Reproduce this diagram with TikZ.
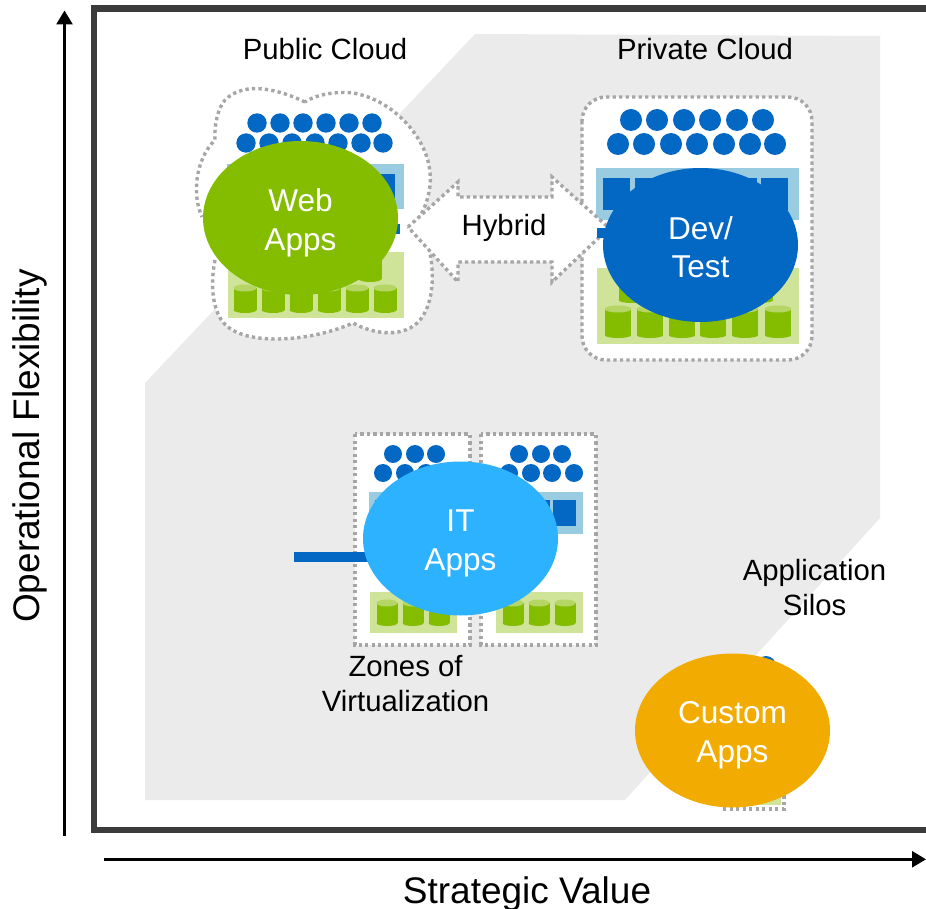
\documentclass[tikz,border=0pt]{standalone}
\usepackage{fontspec}
\setmainfont{Liberation Sans}
\usetikzlibrary{shapes.geometric,arrows.meta}
\definecolor{regiongrey}{HTML}{EBEBEB}
\definecolor{framegrey}{HTML}{3B3B3B}
\definecolor{dotgrey}{HTML}{A6A6A6}
\definecolor{ibmblue}{HTML}{0368C4}
\definecolor{paleblue}{HTML}{99CCE0}
\definecolor{palegreen}{HTML}{CFE399}
\definecolor{cylgreen}{HTML}{84BD00}
\definecolor{cyltop}{HTML}{B5D665}
\definecolor{skyblue}{HTML}{2DB2FF}
\definecolor{amber}{HTML}{F2AB00}
\newcommand{\mycyl}[4]{% x, top, bottom, width
  \fill[cylgreen] (#1-#4/2,#2) rectangle (#1+#4/2,#3-3);
  \fill[cylgreen] (#1,#3-3) ellipse [x radius=#4/2*1pt, y radius=3pt];
  \fill[cyltop] (#1,#2) ellipse [x radius=#4/2*1pt, y radius=3.5pt];
}
\tikzset{
  dotline/.style={draw=dotgrey,line width=3.4pt,dash pattern=on 3.3pt off 3.2pt},
  labeltext/.style={font=\fontsize{29.3}{35}\selectfont,align=center,inner sep=0pt,text=black},
  axistext/.style={font=\fontsize{37}{44}\selectfont,inner sep=0pt,text=black},
  appblob/.style={ellipse,minimum width=195pt,minimum height=154pt,inner sep=0pt},
  blobtext/.style={text=white,align=center,inner sep=0pt,font=\fontsize{31.6}{39}\selectfont},
  axisline/.style={black,line width=2.7pt,-{Triangle[length=14pt,width=16pt]}},
}
\begin{document}
\begin{tikzpicture}[x=1pt,y=-1pt]
\useasboundingbox (0,0) rectangle (926,909);
\clip (0,0) rectangle (926,909);
% region
\fill[regiongrey] (475,34) -- (880,36) -- (880,518) -- (625,800) -- (145,800) -- (145,383) -- cycle;
% frame
\draw[framegrey,line width=6.2pt] (94.2,8.5) rectangle (945,830);
% axes
\coordinate (ybase) at (64.5,836);
\coordinate (ytip) at (64.5,10.5);
\coordinate (xbase) at (104,859.3);
\coordinate (xtip) at (926,859.3);
\draw[axisline] (ybase) -- (ytip);
\draw[axisline] (xbase) -- (xtip);
% ---------- public cloud
\path[fill=white] (305,102) .. controls (280,90) and (245,80) .. (225,100)
  .. controls (218,108) and (214,125) .. (215,140)
  .. controls (195,160) and (192,195) .. (202,217)
  -- (215,260)
  .. controls (210,285) and (212,315) .. (228,327)
  .. controls (250,345) and (310,342) .. (353,323)
  .. controls (375,335) and (405,338) .. (420,320)
  .. controls (432,305) and (435,280) .. (430,253)
  -- (410,229)
  .. controls (425,215) and (432,190) .. (430,173)
  .. controls (428,140) and (395,100) .. (353,93)
  .. controls (335,91) and (315,95) .. (305,102) -- cycle;
\path[dotline] (305,102) .. controls (280,90) and (245,80) .. (225,100)
  .. controls (218,108) and (214,125) .. (215,140)
  .. controls (195,160) and (192,195) .. (202,217)
  (215,260)
  .. controls (210,285) and (212,315) .. (228,327)
  .. controls (250,345) and (310,342) .. (353,323)
  .. controls (375,335) and (405,338) .. (420,320)
  .. controls (432,305) and (435,280) .. (430,253)
  (410,229)
  .. controls (425,215) and (432,190) .. (430,173)
  .. controls (428,140) and (395,100) .. (353,93)
  .. controls (335,91) and (315,95) .. (305,102);
\foreach \x in {257,280,303,326,349,372} {\fill[ibmblue] (\x,123) circle [radius=9.7pt];}
\foreach \x in {246,269,292,315,338,361,383} {\fill[ibmblue] (\x,143) circle [radius=9.7pt];}
\fill[paleblue] (227,164) rectangle (404,209);
\foreach \x in {235,262,289,316,343,371} {\fill[ibmblue] (\x,174) rectangle (\x+24,202);}
\fill[ibmblue] (210,224) rectangle (400,234);
\fill[palegreen] (228,252) rectangle (404,318);
\foreach \x in {259,287,315,343,370} {\mycyl{\x}{258}{282}{23}}
\foreach \x in {245,273,301,329,357,385} {\mycyl{\x}{288}{313}{23}}
% ---------- private cloud
\draw[dotline,fill=white,rounded corners=24pt] (582,97) rectangle (812,360);
\foreach \x in {631,657,684,710,737,763} {\fill[ibmblue] (\x,120) circle [radius=11pt];}
\foreach \x in {618,644,671,697,724,750,775} {\fill[ibmblue] (\x,144) circle [radius=11pt];}
\fill[paleblue] (596,168) rectangle (799,220);
\foreach \x in {603,635,667,699,730,761} {\fill[ibmblue] (\x,178) rectangle (\x+27,210);}
\fill[palegreen] (597,268) rectangle (799,344);
\foreach \x in {632,664,696,728,760} {\mycyl{\x}{275}{303}{26.7}}
\foreach \x in {618,650,682,713,745,778} {\mycyl{\x}{309}{338}{26.7}}
% ---------- hybrid arrow
\draw[dotline,fill=white] (408,227) -- (458,182) -- (458,197) -- (552,197) -- (552,177)
  -- (609,228) -- (552,282) -- (552,262) -- (458,262) -- (458,282) -- cycle;
\fill[ibmblue] (597,228) rectangle (780,238);
% ---------- zones of virtualization
\draw[dotline,fill=white] (355,434) rectangle (470,645);
\draw[dotline,fill=white] (481,434) rectangle (596,645);
\foreach \shiftx in {0,126}{
  \foreach \x in {393,415,436} {\fill[ibmblue] (\x+\shiftx,454) circle [radius=9pt];}
  \foreach \x in {383,405,426,448} {\fill[ibmblue] (\x+\shiftx,473) circle [radius=9pt];}
  \fill[paleblue] (369+\shiftx,492) rectangle (457+\shiftx,534);
  \foreach \x in {375,401,427} {\fill[ibmblue] (\x+\shiftx,500) rectangle (\x+\shiftx+23,526);}
  \fill[palegreen] (370+\shiftx,592) rectangle (457+\shiftx,633);
  \foreach \x in {387,413,439} {\mycyl{\x+\shiftx}{603}{626}{21}}
}
\fill[ibmblue] (294,552) rectangle (400,562);
% ---------- application silo
\draw[dotline,fill=white] (722,680) rectangle (784,809);
\fill[ibmblue] (766,666) circle [radius=10pt];
\fill[palegreen] (726,760) rectangle (781,805);
\mycyl{754}{770}{804}{22}
% ---------- blobs
\node[appblob,fill=cylgreen] (web) at (300.5,218) {};
\node[appblob,fill=ibmblue] (dev) at (700.5,245) {};
\node[appblob,fill=skyblue] (it) at (460.5,538.5) {};
\node[appblob,fill=amber] (custom) at (732.5,730.5) {};
\node[blobtext] (webtext) at (300.5,223) {Web\\Apps};
\node[blobtext] (devtext) at (700.5,247) {Dev/\\[-1pt]Test};
\node[blobtext] (ittext) at (460.5,543.5) {IT\\Apps};
\node[blobtext] (customtext) at (732.5,735.5) {Custom\\Apps};
% ---------- labels
\node[labeltext] (public) at (325,49) {Public Cloud};
\node[labeltext] (private) at (705,49) {Private Cloud};
\node[labeltext] (hybrid) at (504,228) {Hybrid};
\node[labeltext] (zones) at (405.5,684) {Zones of\\Virtualization};
\node[labeltext] (silos) at (814.5,588) {Application\\Silos};
\node[axistext,rotate=90] (yaxis) at (30,446) {Operational Flexibility};
\node[axistext] (xaxis) at (527,894) {Strategic Value};
\end{tikzpicture}
\end{document}
